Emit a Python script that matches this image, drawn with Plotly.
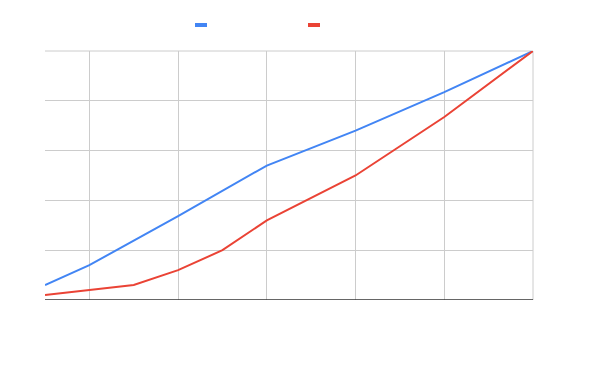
import plotly.graph_objects as go

# x positions in half-grid units
blue_x = [0, 1, 3, 5, 7, 9, 11]
blue_y = [6, 14, 33.7, 54, 68, 83.5, 100]
red_x = [0, 1, 2, 3, 4, 5, 7, 9, 11]
red_y = [2, 4, 6, 12, 20, 32, 50, 73.5, 100]

BLUE = "#4285F4"
RED = "#EA4335"
GRID = "#cccccc"

fig = go.Figure()
fig.add_trace(go.Scatter(x=blue_x, y=blue_y, mode="lines", line=dict(color=BLUE, width=2), name=""))
fig.add_trace(go.Scatter(x=red_x, y=red_y, mode="lines", line=dict(color=RED, width=2), name=""))

# legend swatches
fig.add_shape(type="rect", xref="paper", yref="paper", x0=(195-45)/488, x1=(207-45)/488,
              y0=(300-27)/249, y1=(300-23)/249, fillcolor=BLUE, line_width=0)
fig.add_shape(type="rect", xref="paper", yref="paper", x0=(308-45)/488, x1=(320-45)/488,
              y0=(300-27)/249, y1=(300-23)/249, fillcolor=RED, line_width=0)

# edge grid lines (top and right)
fig.add_shape(type="line", xref="paper", yref="paper", x0=0, x1=1, y0=1, y1=1,
              line=dict(color=GRID, width=1), layer="below")
fig.add_shape(type="line", xref="paper", yref="paper", x0=1, x1=1, y0=0, y1=1,
              line=dict(color=GRID, width=1), layer="below")

fig.update_layout(
    width=600, height=371,
    margin=dict(l=37, r=75, t=43, b=79),
    paper_bgcolor="white", plot_bgcolor="white",
    showlegend=False,
    xaxis=dict(range=[0, 11], tickvals=[1, 3, 5, 7, 9, 11], showticklabels=False,
               showgrid=True, gridcolor=GRID, gridwidth=1, zeroline=False,
               showline=False, fixedrange=True),
    yaxis=dict(range=[0, 100], tickvals=[0, 20, 40, 60, 80, 100], showticklabels=False,
               showgrid=True, gridcolor=GRID, gridwidth=1, zeroline=False,
               showline=False, fixedrange=True),
)
# baseline
fig.add_shape(type="line", xref="paper", yref="y", x0=0, x1=1, y0=0, y1=0,
              line=dict(color="#333333", width=1.5))

fig.write_html("out.html")
